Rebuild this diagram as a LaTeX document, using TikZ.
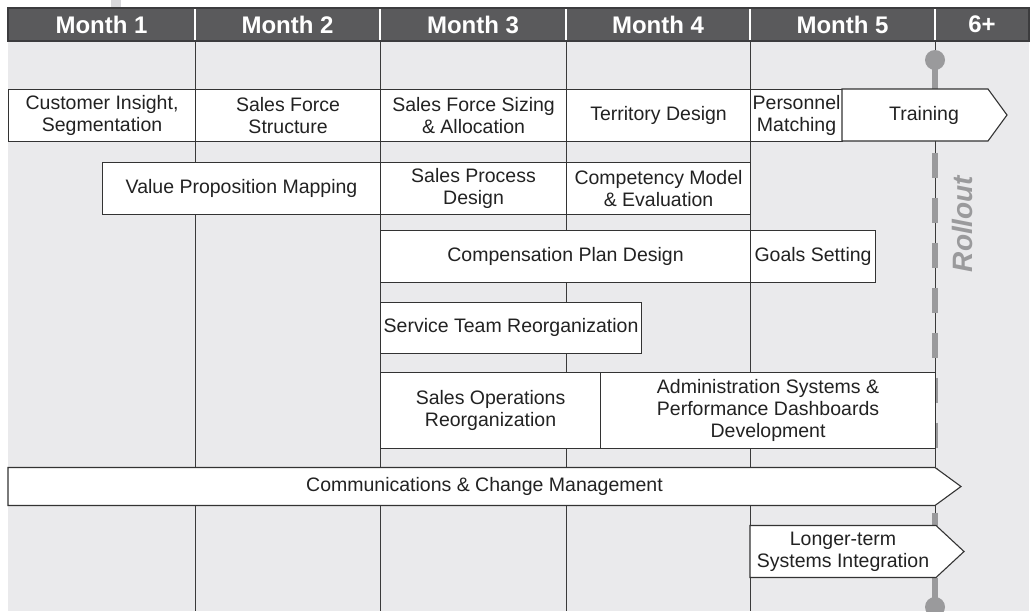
\documentclass[tikz,border=0pt]{standalone}
\usepackage{fontspec}
\setmainfont{Liberation Sans}
\usetikzlibrary{positioning,calc}

\definecolor{panel}{HTML}{EAEAEC}
\definecolor{headfill}{HTML}{5A5A5C}
\definecolor{headline}{HTML}{3C3C3E}
\definecolor{gridline}{HTML}{3A3A3A}
\definecolor{boxline}{HTML}{333333}
\definecolor{rollgray}{HTML}{9A9A9C}
\definecolor{tabgray}{HTML}{D8D8DB}
\definecolor{inktext}{HTML}{222222}

\newcommand{\taskfont}{\fontsize{19.5}{21.8}\selectfont}
\newcommand{\headfont}{\fontsize{24}{26}\selectfont\bfseries}

\begin{document}
\begin{tikzpicture}[x=1pt,y=-1pt,
	task/.style={draw=boxline,fill=white,line width=1.1pt,inner sep=0pt,align=center,font=\taskfont,text=inktext,anchor=north west},
	tasktext/.style={inner sep=0pt,align=center,font=\taskfont,text=inktext},
	arrowbox/.style={draw=boxline,fill=white,line width=1.1pt,line join=miter},
	month/.style={inner sep=0pt,font=\headfont,text=white},
	grid/.style={draw=gridline,line width=1pt},
	rollout/.style={draw=rollgray,line width=6pt},
	dot/.style={circle,fill=rollgray,inner sep=0pt,minimum size=20pt}]

	\useasboundingbox (0,0) rectangle (1031,611);
	\fill[panel] (8,41) rectangle (1029,611);
	\fill[tabgray] (111,0) rectangle (121,8);

	% month boundaries
	\foreach \x in {195,380,566,750,935}
		\draw[grid] (\x,41) -- (\x,611);

	% rollout marker line
	\coordinate (rolltop) at (935,141);
	\coordinate (rollbot) at (935,525.5);
	\coordinate (trainingtop) at (935,89);
	\coordinate (longtermbot) at (935,577.5);
	\node[dot] (startdot) at (935,60) {};
	\node[dot] (enddot) at (935,607) {};
	\draw[rollout] (startdot.center) -- (trainingtop);
	\draw[rollout,dash pattern=on 25pt off 20pt,dash phase=33.3pt] (rolltop) -- (rollbot);
	\draw[rollout] (longtermbot) -- (enddot.center);

	% row 1
	\node[task,minimum width=187pt,minimum height=52pt] (insight) at (8,89) {Customer Insight,\\Segmentation};
	\node[task,minimum width=185pt,minimum height=52pt] (structure) at (195,89) {Sales Force\\Structure};
	\node[task,minimum width=186pt,minimum height=52pt] (sizing) at (380,89) {Sales Force Sizing\\\& Allocation};
	\node[task,minimum width=184pt,minimum height=52pt] (territory) at (566,89) {Territory Design};
	\node[task,minimum width=92pt,minimum height=52pt] (matching) at (750,89) {Personnel\\Matching};
	\draw[arrowbox] (842,89) -- (988,89) -- (1007,115) -- (988,141) -- (842,141) -- cycle;
	\node[tasktext] (training) at (924,115) {Training};

	% row 2
	\node[task,minimum width=278pt,minimum height=52pt] (valueprop) at (102,162) {Value Proposition Mapping};
	\node[task,minimum width=186pt,minimum height=52pt] (process) at (380,162) {Sales Process\\Design};
	\node[task,minimum width=184pt,minimum height=52pt] (competency) at (566,162) {Competency Model\\\& Evaluation};

	% row 3
	\node[task,minimum width=370pt,minimum height=52pt] (compplan) at (380,230) {Compensation Plan Design};
	\node[task,minimum width=125pt,minimum height=52pt] (goals) at (750,230) {Goals Setting};

	% row 4
	\node[task,minimum width=261pt,minimum height=51.5pt] (service) at (380,301.5) {Service Team Reorganization};

	% row 5
	\node[task,minimum width=220pt,minimum height=75.5pt] (salesops) at (380,372) {Sales Operations\\Reorganization};
	\node[task,minimum width=335pt,minimum height=75.5pt] (admin) at (600,372) {Administration Systems \&\\Performance Dashboards\\Development};

	% row 6
	\draw[arrowbox] (8,467.5) -- (935,467.5) -- (961,486.5) -- (935,505.5) -- (8,505.5) -- cycle;
	\node[tasktext] (change) at (484.5,486.5) {Communications \& Change Management};

	% row 7
	\draw[arrowbox] (750,525.5) -- (936,525.5) -- (964,551.5) -- (936,577.5) -- (750,577.5) -- cycle;
	\node[tasktext] (integration) at (843,551.5) {Longer-term\\Systems Integration};

	% header
	\draw[draw=headline,fill=headfill,line width=1.5pt] (8,8) rectangle (1029,41);
	\foreach \x in {195,380,566,750,935}
		\draw[white,line width=2pt] (\x,9) -- (\x,40);
	\foreach \a/\b/\t/\n in {8/195/Month 1/m1,195/380/Month 2/m2,380/566/Month 3/m3,566/750/Month 4/m4,750/935/Month 5/m5,935/1029/6+/m6}
		\node[month] (\n) at ({(\a+\b)/2},24.5) {\t};

	\node[rotate=90,inner sep=0pt,font=\fontsize{28}{28}\selectfont\bfseries\itshape,text=rollgray] (rolllabel) at (962,224) {Rollout};
\end{tikzpicture}
\end{document}
